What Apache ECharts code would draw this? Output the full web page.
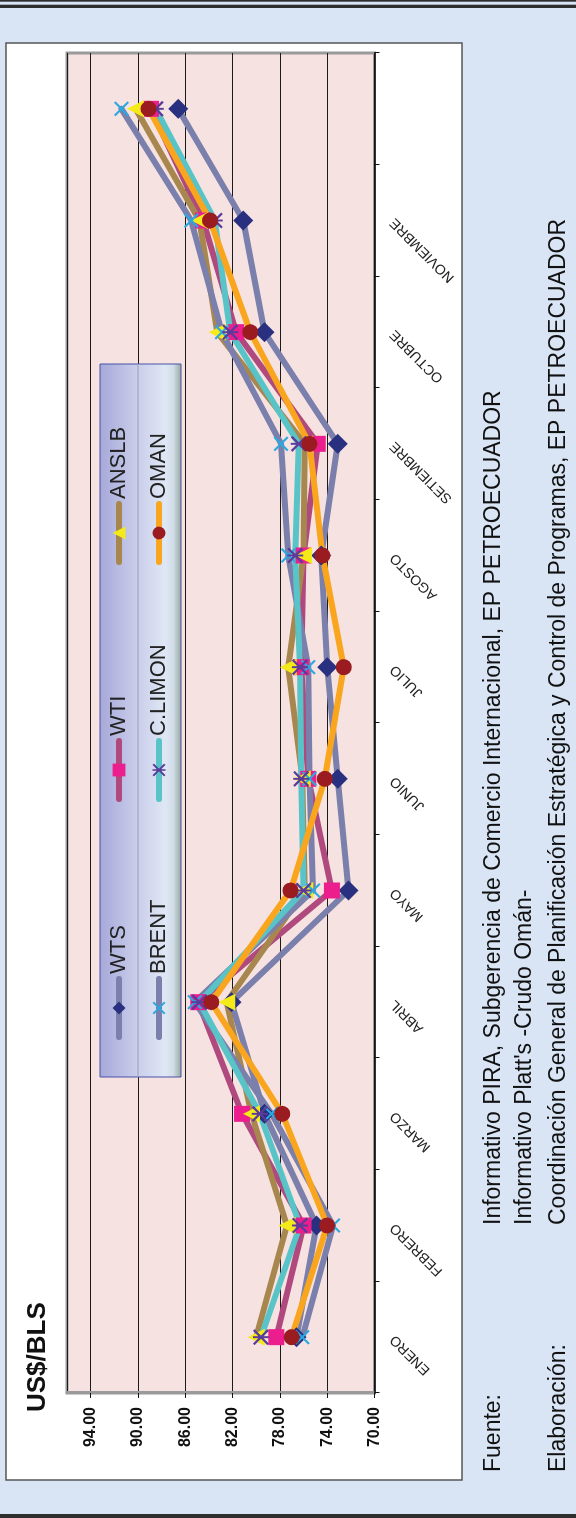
<!DOCTYPE html>
<html>
<head>
<meta charset="utf-8">
<script src="https://cdn.jsdelivr.net/npm/echarts@6/dist/echarts.min.js"></script>
<style>
	html, body { margin: 0; padding: 0; width: 576px; height: 1518px; overflow: hidden; background: #d9e4f4; }
	/* el gráfico se dibuja apaisado y se gira 90 grados, como en el original */
	#grafico { position: absolute; left: 0; top: 0; width: 1518px; height: 576px;
		transform-origin: 0 0; transform: translateY(1518px) rotate(-90deg); }
</style>
</head>
<body>
<div id="grafico"></div>
<script>
// Datos (US$/BLS)
var meses = ['ENERO', 'FEBRERO', 'MARZO', 'ABRIL', 'MAYO', 'JUNIO', 'JULIO', 'AGOSTO', 'SETIEMBRE', 'OCTUBRE', 'NOVIEMBRE', ''];
var wts    = [76.6, 74.9, 79.3, 82.1, 72.2, 73.1, 74.0, 74.5, 73.1, 79.3, 81.1, 86.6];
var wti    = [78.3, 76.0, 81.2, 84.9, 73.6, 75.6, 76.2, 76.0, 74.8, 81.7, 84.5, 88.9];
var anslb  = [80.0, 77.4, 80.4, 82.5, 75.9, 76.1, 77.3, 76.0, 75.9, 83.3, 84.8, 90.2];
var brent  = [76.1, 73.5, 78.7, 85.2, 75.2, 75.5, 75.6, 77.3, 77.9, 82.9, 85.5, 91.4];
var climon = [79.6, 76.3, 79.7, 84.8, 76.0, 76.2, 76.3, 76.7, 76.4, 82.2, 83.5, 88.5];
var oman   = [77.0, 74.0, 77.8, 83.8, 77.1, 74.2, 72.6, 74.4, 75.5, 80.5, 83.9, 89.1];
var nombres = ['WTS', 'WTI', 'ANSLB', 'BRENT', 'C.LIMON', 'OMAN'];
var fuente1 = 'Informativo PIRA, Subgerencia de Comercio Internacional, EP PETROECUADOR';
var fuente2 = "Informativo Platt's -Crudo Omán-";
var elaboracion = 'Coordinación General de Planificación Estratégica y Control de Programas, EP PETROECUADOR';

var FUENTE = "'Liberation Sans', Arial, Helvetica, sans-serif";
var LETRA_PIE = "23px 'Liberation Sans', Arial, sans-serif";
var simboloX = 'path://M0,1L1,0L5,4L9,0L10,1L6,5L10,9L9,10L5,6L1,10L0,9L4,5Z';
var simboloAst = 'path://M0,1L1,0L5,4L9,0L10,1L6,5L10,9L9,10L5,6L1,10L0,9L4,5Z M4.4,0L5.6,0L5.6,10L4.4,10Z';

function serie(nombre, datos, linea, marca, simbolo, tam) {
	return {
		name: nombre, type: 'line', data: datos,
		symbol: simbolo, symbolSize: tam, showAllSymbol: true,
		lineStyle: { color: linea, width: 6, cap: 'round', join: 'round' },
		itemStyle: { color: marca, borderWidth: 0 },
		emphasis: { disabled: true }
	};
}

function leyenda(nombre, x, y) {
	return {
		data: [nombre], left: x, top: y, padding: 0, itemGap: 0,
		itemWidth: 58, itemHeight: 16, selectedMode: false, z: 6,
		lineStyle: { width: 6, cap: 'round' },
		textStyle: { fontFamily: FUENTE, fontSize: 22, color: '#222' }
	};
}

var chart = echarts.init(document.getElementById('grafico'), null, { renderer: 'canvas', width: 1518, height: 576 });

var option = {
	animation: false,
	textStyle: { fontFamily: FUENTE },
	grid: {
		left: 125, right: 53, top: 67, bottom: 201.5,
		show: true, backgroundColor: '#f6e2e1', borderColor: '#9a9a9a', borderWidth: 3
	},
	xAxis: {
		type: 'category', data: meses, boundaryGap: true,
		axisLine: { lineStyle: { color: '#111', width: 1.5 } },
		axisTick: { show: true, length: 5, interval: 0, lineStyle: { color: '#111' } },
		axisLabel: { interval: 0, rotate: 45, margin: 18, fontSize: 14, color: '#222', fontFamily: FUENTE },
		splitLine: { show: false }
	},
	yAxis: {
		type: 'value', min: 70, max: 96, interval: 4,
		axisLine: { show: true, lineStyle: { color: '#9a9a9a', width: 3 } },
		axisTick: { show: true, length: 5, lineStyle: { color: '#111' } },
		axisLabel: {
			margin: 14, fontSize: 16, fontWeight: 'bold', color: '#111', fontFamily: FUENTE,
			showMaxLabel: false,
			formatter: function (v) { return v.toFixed(2); }
		},
		splitLine: { show: true, lineStyle: { color: '#1a1a1a', width: 1 } }
	},
	legend: [
		leyenda('WTS', 478, 108), leyenda('WTI', 716, 108), leyenda('ANSLB', 953, 108),
		leyenda('BRENT', 478, 148), leyenda('C.LIMON', 716, 148), leyenda('OMAN', 953, 148)
	],
	graphic: [
		// marcos dobles de la página
		{ type: 'rect', z: -20, shape: { x: 0, y: 0, width: 4, height: 576 }, style: { fill: '#2e2e2e' } },
		{ type: 'rect', z: -20, shape: { x: 1510, y: 0, width: 3.3, height: 576 }, style: { fill: '#2e2e2e' } },
		{ type: 'rect', z: -20, shape: { x: 1516.3, y: 0, width: 1.7, height: 576 }, style: { fill: '#2e2e2e' } },
		// caja blanca del gráfico
		{ type: 'rect', z: -10, shape: { x: 38, y: 6, width: 1437, height: 456 },
			style: { fill: '#ffffff', stroke: '#555', lineWidth: 1.5 } },
		// caja de la leyenda
		{ type: 'rect', z: 3, shape: { x: 441, y: 100, width: 713, height: 81 },
			style: {
				fill: new echarts.graphic.LinearGradient(0, 0, 0, 1, [
					{ offset: 0, color: '#a6a8d8' },
					{ offset: 0.45, color: '#c9cdea' },
					{ offset: 0.8, color: '#dfe7f4' },
					{ offset: 0.9, color: '#d2dde8' },
					{ offset: 1, color: '#92a69c' }
				]),
				stroke: '#4652a8', lineWidth: 1
			} },
		{ type: 'line', z: 3, shape: { x1: 441, y1: 138, x2: 1154, y2: 138 }, style: { stroke: '#9aa0b8', lineWidth: 1 } },
		// título del eje
		{ type: 'text', z: 5, style: { text: 'US$/BLS', x: 106, y: 38, verticalAlign: 'middle',
			font: "bold 26px 'Liberation Sans', Arial, sans-serif", fill: '#111' } },
		// fuente y elaboración
		{ type: 'text', z: 5, style: { text: 'Fuente:', x: 46, y: 494, verticalAlign: 'middle', font: LETRA_PIE, fill: '#111' } },
		{ type: 'text', z: 5, style: { text: fuente1, x: 293, y: 494, verticalAlign: 'middle', font: LETRA_PIE, fill: '#111' } },
		{ type: 'text', z: 5, style: { text: fuente2, x: 293, y: 525, verticalAlign: 'middle', font: LETRA_PIE, fill: '#111' } },
		{ type: 'text', z: 5, style: { text: 'Elaboración:', x: 46, y: 559, verticalAlign: 'middle', font: LETRA_PIE, fill: '#111' } },
		{ type: 'text', z: 5, style: { text: elaboracion, x: 293, y: 559, verticalAlign: 'middle', font: LETRA_PIE, fill: '#111' } }
	],
	series: [
		serie('WTS', wts, '#7a7fab', '#28307f', 'diamond', 20),
		serie('WTI', wti, '#b0497e', '#ec1d8c', 'rect', 16),
		serie('ANSLB', anslb, '#a8874f', '#f4ea1a', 'triangle', 17),
		serie('BRENT', brent, '#7a7fab', '#2aa9e0', simboloX, 15),
		serie('C.LIMON', climon, '#58c4c8', '#5b3b9a', simboloAst, 16),
		serie('OMAN', oman, '#f9a61e', '#9b1c20', 'circle', 16)
	]
};

chart.setOption(option);
</script>
</body>
</html>
